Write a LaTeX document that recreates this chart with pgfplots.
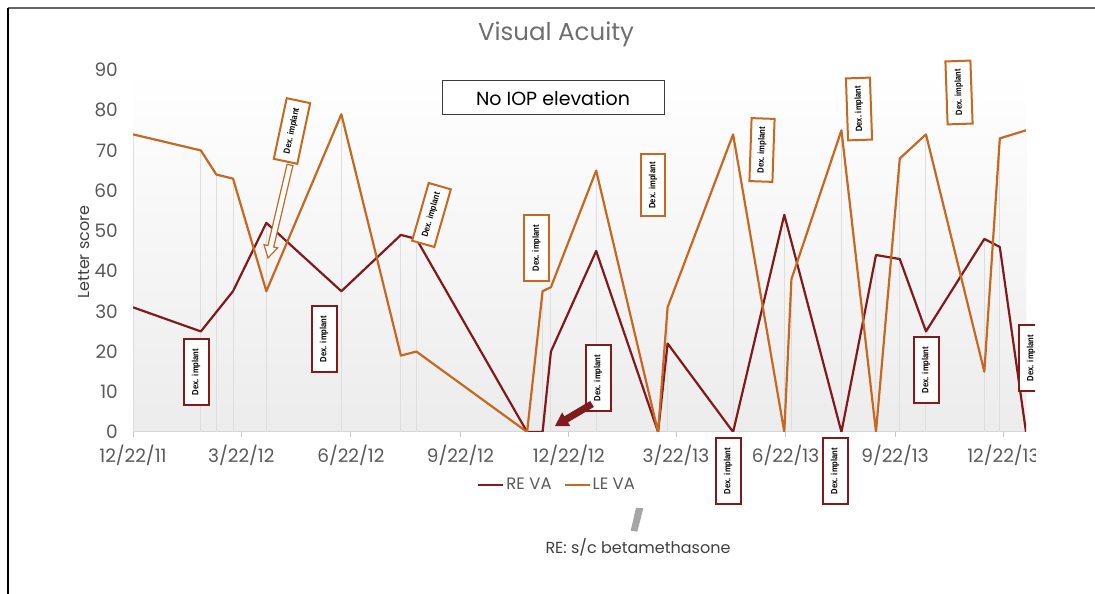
\documentclass[border=0pt]{standalone}
\usepackage{fontspec}
\setmainfont{Poppins}
\newfontfamily\dexfont{Liberation Sans}[FakeStretch=0.85]
\usepackage{pgfplots}
\pgfplotsset{compat=1.18}
\definecolor{REcol}{RGB}{128,26,28}
\definecolor{LEcol}{RGB}{198,104,34}
\definecolor{tickgray}{RGB}{89,89,89}
\definecolor{titlegray}{RGB}{110,110,110}
\definecolor{dropgray}{RGB}{222,222,222}
\begin{document}
\begin{tikzpicture}
\useasboundingbox (0,0) rectangle (1095pt,594pt);
\begin{scope}
\clip (0,0) rectangle (1035pt,594pt);
\begin{axis}[
  at={(133pt,162pt)}, anchor=south west,
  scale only axis, width=893pt, height=362pt,
  xmin=0, xmax=750, ymin=0, ymax=90,
  axis x line*=bottom, axis y line*=left,
  x axis line style={draw={rgb,255:red,215;green,215;blue,215}, line width=1pt},
  y axis line style={draw=none},
  xtick={0,91,183,275,366,456,548,640,731},
  xticklabels={12/22/11,3/22/12,6/22/12,9/22/12,12/22/12,3/22/13,6/22/13,9/22/13,12/22/13},
  ytick={0,10,...,90},
  tick align=outside,
  xtick style={draw={rgb,255:red,200;green,200;blue,200}, line width=0.8pt},
  ytick style={draw=none},
  major tick length=5pt,
  /pgf/number format/assume math mode=true,
  tick label style={font=\fontsize{18.5}{22}\selectfont, text=tickgray},
  xticklabel style={inner sep=0pt, yshift=-8pt},
  yticklabel style={inner sep=0pt, xshift=-10pt},
  axis background/.style={shade, top color=white, bottom color={rgb,255:red,236;green,236;blue,236}},
  legend style={at={(0.475,-0.146)}, anchor=center, draw=none, fill=none,
    legend columns=2, font=\fontsize{16.5}{19}\selectfont, text=tickgray,
    /tikz/every even column/.append style={column sep=10pt},
    legend cell align=left, inner sep=0pt},
  legend image code/.code={\draw[#1, line width=2pt] (0pt,0pt) -- (25pt,0pt);},
]
\addplot[ycomb, dropgray, line width=1pt, forget plot] coordinates {
(0,74) (57,70) (70,64) (84,63) (112,52) (175,79) (225,49) (238,48) (331,0) (344,35) (351,36) (389,65) (441,0) (449,31) (504,74) (547,54) (553,38) (595,75) (624,44) (644,68) (666,74) (715,48) (728,73) (750,75)};
\addplot[REcol, line width=2.2pt, line join=round] coordinates {
(0,31) (57,25) (84,35) (112,52) (175,35) (225,49) (238,48) (331,0) (344,0) (351,20) (389,45) (441,0) (449,22) (504,0) (547,54) (595,0) (624,44) (644,43) (666,25) (715,48) (728,46) (750,0)};
\addlegendentry{RE VA}
\addplot[LEcol, line width=2.2pt, line join=round] coordinates {
(0,74) (57,70) (70,64) (84,63) (112,35) (175,79) (225,19) (238,20) (331,0) (344,35) (351,36) (389,65) (441,0) (449,31) (504,74) (547,0) (553,38) (595,75) (624,0) (644,68) (666,74) (715,15) (728,73) (750,75)};
\addlegendentry{LE VA}
\end{axis}
\begin{scope}[x=1pt, y=-1pt, shift={(0pt,594pt)}]
  \tikzset{
    dex/.style={draw=#1, line width=2pt, fill=white, inner sep=0pt,
      minimum width=66pt, minimum height=25pt,
      font=\dexfont\bfseries\fontsize{9}{10}\selectfont, text=black},
  }
  % title
  \node[text=titlegray, font=\fontsize{24.5}{29}\selectfont] at (556,34) {Visual Acuity};
  \node[text={rgb,255:red,64;green,64;blue,64}, font=\fontsize{16}{19}\selectfont, rotate=90] at (84,252) {Letter score};
  \node[draw={rgb,255:red,60;green,60;blue,60}, line width=1pt, fill=white, minimum width=222pt, minimum height=34pt, inner sep=0pt, font=\fontsize{19}{22}\selectfont] at (553,98) {No IOP elevation};
  % RE boxes
  \node[dex=REcol, rotate=90] at (196,372) {Dex. implant};
  \node[dex=REcol, rotate=90] at (324,339) {Dex. implant};
  \node[dex=REcol, rotate=90] at (598,378) {Dex. implant};
  \node[dex=REcol, rotate=90] at (728,471) {Dex. implant};
  \node[dex=REcol, rotate=90] at (835,471) {Dex. implant};
  \node[dex=REcol, rotate=90] at (926,370) {Dex. implant};
  \node[dex=REcol, rotate=90] at (1031,358) {Dex. implant};
  % RE arrow
  \fill[REcol] (593.8,407) -- (568,422.3) -- (570.3,426.2) -- (555,426) -- (562.1,412.4) -- (564.4,416.3) -- (590.2,401) -- cycle;
  % LE hollow arrow
  \filldraw[fill=white, draw=LEcol, line width=1.2pt, line join=miter] (292.9,165.7) -- (273.7,247.0) -- (277.6,247.9) -- (268,258) -- (264.0,244.7) -- (267.9,245.6) -- (287.1,164.3) -- cycle;
  % LE boxes
  \node[dex=LEcol, rotate=78, minimum width=62pt, minimum height=24pt] at (292,131) {Dex. implant};
  \node[dex=LEcol, rotate=74, minimum width=60pt, minimum height=23pt] at (431.5,215) {Dex. implant};
  \node[dex=LEcol, rotate=90] at (536.5,248) {Dex. implant};
  \node[dex=LEcol, rotate=90, minimum width=62pt, minimum height=24pt] at (653,185.5) {Dex. implant};
  \node[dex=LEcol, rotate=88, minimum width=63pt, minimum height=23pt] at (762,150) {Dex. implant};
  \node[dex=LEcol, rotate=92, minimum width=62pt, minimum height=24pt] at (859,109) {Dex. implant};
  \node[dex=LEcol, rotate=92, minimum width=63pt, minimum height=25pt] at (959,92.5) {Dex. implant};
  % betamethasone marker
  \fill[gray!70] (636,507.7) -- (643.3,508.3) -- (637.3,531.7) -- (630.7,530.7) -- cycle;
  \node[text={rgb,255:red,64;green,64;blue,64}, font=\fontsize{16}{19}\selectfont] at (638,547) {RE: s/c betamethasone};
\end{scope}
\end{scope}
\begin{scope}[x=1pt, y=-1pt, shift={(0pt,594pt)}]
  \draw[draw={rgb,255:red,100;green,100;blue,100}, line width=2pt] (8,8) -- (1095,8);
  \draw[black, line width=1.5pt] (8,8) -- (8,594);
\end{scope}
\end{tikzpicture}
\end{document}
